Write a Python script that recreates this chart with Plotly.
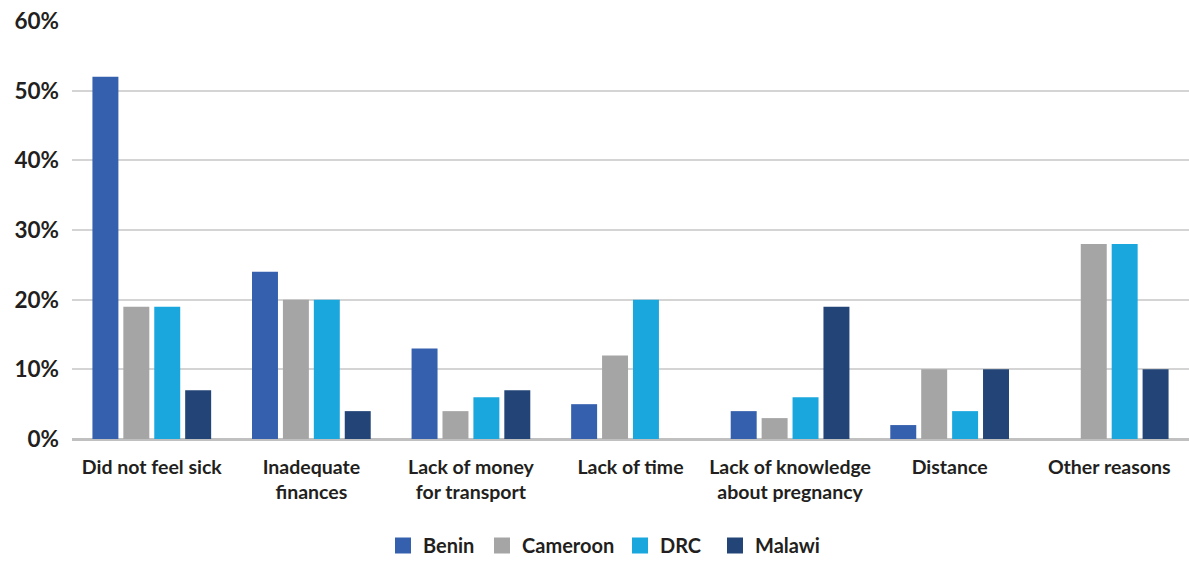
import plotly.graph_objects as go

categories = [
    "Did not feel sick",
    "Inadequate<br>finances",
    "Lack of money<br>for transport",
    "Lack of time",
    "Lack of knowledge<br>about pregnancy",
    "Distance",
    "Other reasons",
]
benin = [52, 24, 13, 5, 4, 2, 0]
cameroon = [19, 20, 4, 12, 3, 10, 28]
drc = [19, 20, 6, 20, 6, 4, 28]
malawi = [7, 4, 7, 0, 19, 10, 10]
y_ticks = [0, 10, 20, 30, 40, 50, 60]
y_labels = ["0%", "10%", "20%", "30%", "40%", "50%", "60%"]

series = [
    ("Benin", benin, "#3560ae"),
    ("Cameroon", cameroon, "#a5a5a5"),
    ("DRC", drc, "#1aa7de"),
    ("Malawi", malawi, "#224476"),
]
# Left edge (px) of each legend entry along the bottom row
legend_left_px = [383, 482, 620, 715]

text_color = "#231f20"
font_family = "Lato"

fig = go.Figure()
for name, vals, color in series:
    fig.add_trace(go.Bar(name=name, x=categories, y=vals, marker_color=color,
                         marker_line_width=0, legendgroup=name, showlegend=False))

legend_layouts = {}
for i, (name, vals, color) in enumerate(series):
    key = "legend" if i == 0 else f"legend{i + 1}"
    fig.add_trace(go.Scatter(name=name, x=[None], y=[None], mode="markers",
                             marker=dict(symbol="square", size=18, color=color),
                             legendgroup=name, showlegend=True, legend=key))
    legend_layouts[key] = dict(
        orientation="h",
        x=legend_left_px[i] / 1189, xanchor="left", xref="container",
        y=-6 / 565, yanchor="bottom", yref="container",
        font=dict(size=20, family=font_family, color=text_color, weight="bold"),
        itemsizing="trace",
        itemwidth=30,
        bgcolor="rgba(0,0,0,0)",
    )

fig.update_layout(
    width=1189,
    height=565,
    margin=dict(l=72, r=0, t=21, b=126),
    plot_bgcolor="white",
    paper_bgcolor="white",
    barmode="group",
    bargap=0.225,
    bargroupgap=0.16,
    font=dict(family=font_family, color=text_color, size=19),
    showlegend=True,
    **legend_layouts,
)
fig.update_yaxes(
    range=[0, 60],
    tickvals=y_ticks,
    ticktext=y_labels,
    showgrid=True,
    gridcolor="#d4d4d4",
    gridwidth=1.5,
    zeroline=True,
    zerolinecolor="#c0c0c0",
    zerolinewidth=2.5,
    tickfont=dict(size=22.5, family=font_family, color=text_color, weight="bold"),
    ticklabelstandoff=12,
    automargin=False,
    fixedrange=True,
)
fig.update_xaxes(
    showgrid=False,
    tickfont=dict(size=19.5, family=font_family, color=text_color, weight="bold"),
    ticklabelstandoff=14,
    automargin=False,
    fixedrange=True,
)

fig.write_html("out.html", config={"displayModeBar": False})
